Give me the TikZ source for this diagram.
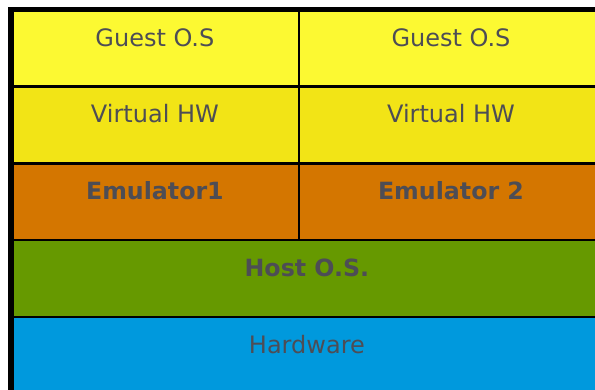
\documentclass[tikz,border=0pt]{standalone}
\usepackage{fontspec}
\setmainfont{DejaVu Sans}
\usepackage{tikz}
\usetikzlibrary{positioning}
\definecolor{guestyellow}{RGB}{252,249,50}
\definecolor{vhwyellow}{RGB}{242,228,22}
\definecolor{emuorange}{RGB}{212,118,0}
\definecolor{hostgreen}{RGB}{102,153,0}
\definecolor{hwblue}{RGB}{0,153,221}
\definecolor{labelgrey}{RGB}{77,77,85}

\begin{document}
\begin{tikzpicture}[x=1pt,y=1pt,
  cell/.style={draw=black, line width=2.5pt, rectangle, minimum height=76.8pt,
    inner sep=0pt, outer sep=0pt, text=labelgrey, font=\fontsize{24}{28}\selectfont,
    text height=14pt, text depth=18pt},
  boldcell/.style={font=\fontsize{23.7}{28}\selectfont\bfseries},
  halfleft/.style={cell, minimum width=288.2pt},
  halfright/.style={cell, minimum width=304pt},
  full/.style={cell, minimum width=592.2pt}]
\clip (0,0) rectangle (595,-390);
\useasboundingbox (0,0) rectangle (595,-390);
% left column
\node[halfleft, fill=guestyellow, anchor=north west] (guest1) at (10.8,-9.7) {Guest O.S};
\node[halfleft, fill=vhwyellow, below=0pt of guest1] (vhw1) {Virtual HW};
\node[halfleft, boldcell, fill=emuorange, below=0pt of vhw1] (emu1) {Emulator1};
% right column
\node[halfright, fill=guestyellow, right=0pt of guest1] (guest2) {Guest O.S};
\node[halfright, fill=vhwyellow, below=0pt of guest2] (vhw2) {Virtual HW};
\node[halfright, boldcell, fill=emuorange, below=0pt of vhw2] (emu2) {Emulator 2};
% shared layers
\node[full, boldcell, fill=hostgreen, anchor=north west] (host) at (emu1.south west) {Host O.S.};
\node[full, fill=hwblue, below=0pt of host] (hw) {Hardware};
% thick outer frame
\draw [-,line width=5.5pt,black] (hw.south west) -- (guest1.north west) -- (guest2.north east);
\end{tikzpicture}
\end{document}
